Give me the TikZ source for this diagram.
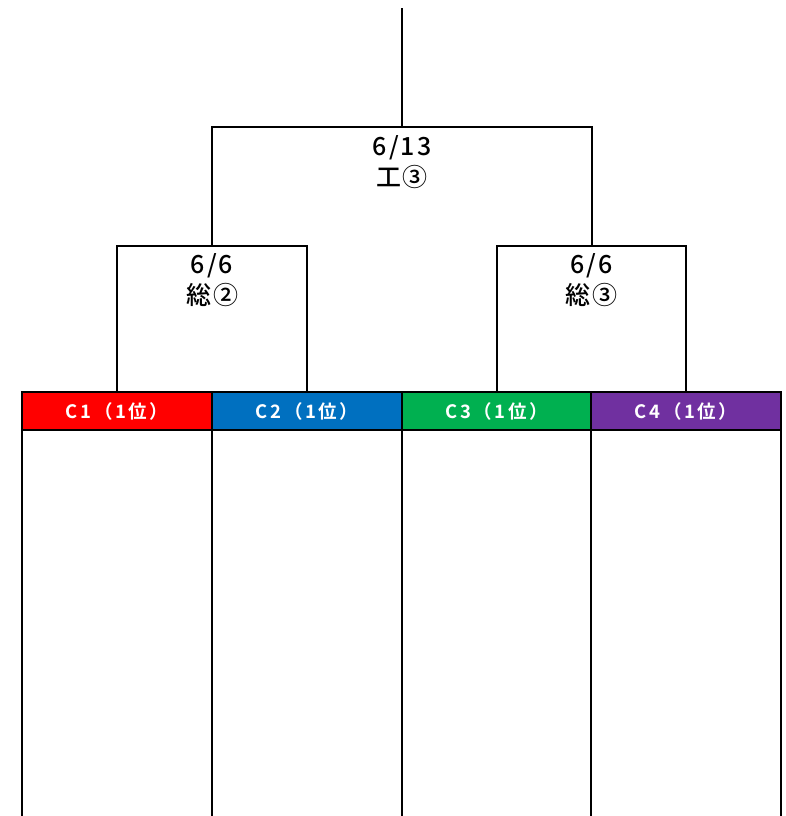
\documentclass[tikz,border=0pt]{standalone}
\usepackage{fontspec}
\setmainfont{Noto Sans CJK JP}
\newfontfamily\labfont[LetterSpace=8]{Noto Sans CJK JP Medium}
\newfontfamily\hdrfont[LetterSpace=14]{Noto Sans CJK JP Bold}
\definecolor{cred}{HTML}{FF0000}
\definecolor{cblue}{HTML}{0070C0}
\definecolor{cgreen}{HTML}{00B050}
\definecolor{cpurple}{HTML}{7030A0}
\begin{document}
\begin{tikzpicture}[x=1pt,y=-1pt,
  ln/.style={line width=2pt,draw=black},
  hdr/.style={ln,minimum width=190pt,minimum height=38pt,inner sep=0pt,outer sep=0pt,
    text=white,font=\hdrfont\fontsize{18.5}{20}\selectfont,anchor=center},
  lab/.style={inner sep=0pt,align=center,font=\labfont\fontsize{25}{31}\selectfont,anchor=north},
  col/.style={ln}]
\useasboundingbox (0,0) rectangle (785,816);
% header cells
\node[hdr,fill=cred]    (h1) at (117,411) {C1（1位）};
\node[hdr,fill=cblue]   (h2) at (307,411) {C2（1位）};
\node[hdr,fill=cgreen,minimum width=189pt]  (h3) at (496.5,411) {C3（1位）};
\node[hdr,fill=cpurple] (h4) at (686,411) {C4（1位）};
% column lines
\coordinate (b1) at (22,816);
\coordinate (b2) at (212,816);
\coordinate (b3) at (402,816);
\coordinate (b4) at (591,816);
\coordinate (b5) at (781,816);
\draw[col] (h1.south west) -- (b1);
\draw[col] (h1.south east) -- (b2);
\draw[col] (h2.south east) -- (b3);
\draw[col] (h3.south east) -- (b4);
\draw[col] (h4.south east) -- (b5);
% first round
\coordinate (s1) at (212,246);
\coordinate (s2) at (591.5,246);
\node[lab] (m1) at (212,253) {6/6\\総②};
\node[lab] (m2) at (591.5,253) {6/6\\総③};
\draw[ln] (h1.north) |- (s1) -| (h2.north);
\draw[ln] (h3.north) |- (s2) -| (h4.north);
% final
\coordinate (f) at (402,127);
\coordinate (top) at (402,8);
\node[lab] (m3) at (402,135) {6/13\\工③};
\draw[ln] (s1) |- (f) -| (s2);
\draw[ln] (f) -- (top);
\end{tikzpicture}
\end{document}
